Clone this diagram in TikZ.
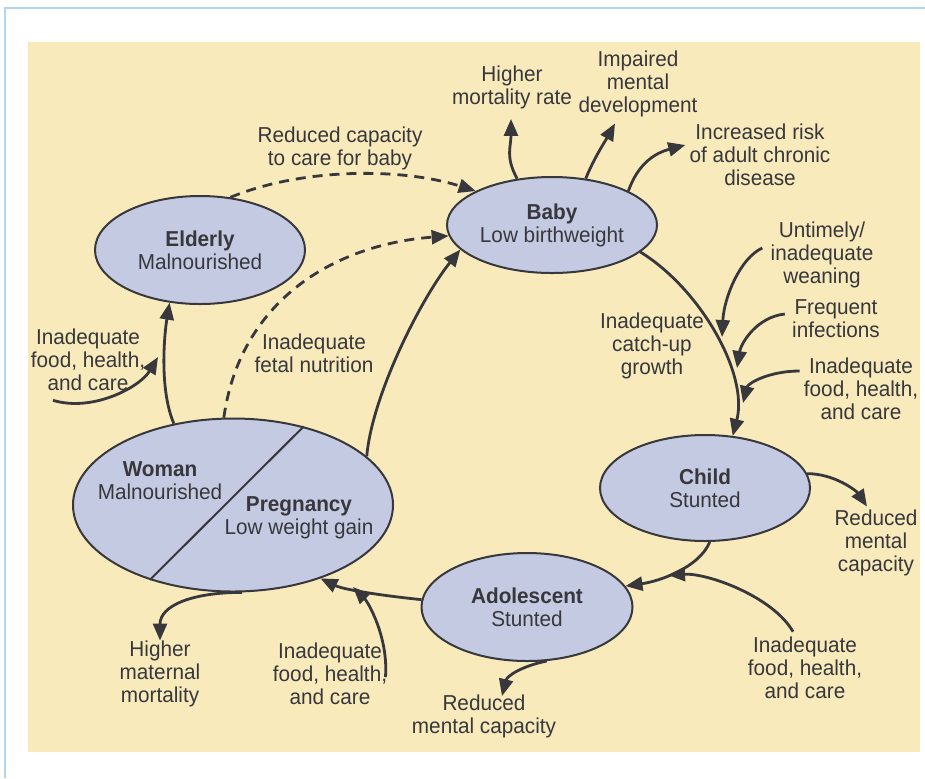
\documentclass[tikz,border=0pt]{standalone}
\usepackage{fontspec}
\setmainfont{Liberation Sans}[FakeStretch=0.96]
\usetikzlibrary{shapes.geometric,arrows.meta}

\definecolor{panel}{RGB}{248,234,187}
\definecolor{lav}{RGB}{196,202,226}
\definecolor{ink}{RGB}{55,55,60}
\definecolor{rim}{RGB}{176,212,242}

\begin{document}
\begin{tikzpicture}[x=0.5pt,y=-0.5pt,
  font=\fontsize{10.8}{11.5}\selectfont,
  stage/.style={ellipse,draw=ink,line width=1pt,fill=lav,inner sep=0pt,
    align=center,text=ink,minimum width=105pt,minimum height=52pt},
  lbl/.style={align=center,text=ink,inner sep=0pt},
  link/.style={draw=ink,line width=1.4pt,-{Triangle[length=8.5pt,width=7pt]}},
  hint/.style={link,dash pattern=on 5pt off 3.5pt}]
\useasboundingbox (0,0) rectangle (925,778);
\draw[rim,line width=0.6pt] (5,778) -- (5,8) -- (925,8);
\fill[panel] (28,42) rectangle (920,752);

\node[stage,minimum height=96pt/2] (baby) at (552,225) {\textbf{Baby}\\Low birthweight};
\node[stage,minimum height=108pt/2] (elderly) at (200,250) {\textbf{Elderly}\\Malnourished};
\node[stage,minimum height=106pt/2] (child) at (705,488) {\textbf{Child}\\Stunted};
\node[stage,minimum width=211pt/2,minimum height=108pt/2] (teen) at (527,607) {\textbf{Adolescent}\\Stunted};
\node[stage,minimum width=320pt/2,minimum height=173pt/2] (woman) at (233,505) {};
\draw[ink,line width=1pt] (woman.48) -- (woman.222);
\node[lbl] (wtxt) at (160,481) {\textbf{Woman}\\Malnourished};
\node[lbl] (ptxt) at (299,518) {\textbf{Pregnancy}\\Low weight gain};

\node[lbl] (hmr) at (512,87) {Higher\\mortality rate};
\node[lbl] (imd) at (638,84) {Impaired\\mental\\development};
\node[lbl] (irc) at (760,155) {Increased risk\\of adult chronic\\disease};
\node[lbl] (rcc) at (340,148) {Reduced capacity\\to care for baby};
\node[lbl] (ifn) at (314,353) {Inadequate\\fetal nutrition};
\node[lbl] (foodE) at (88,360) {Inadequate\\food, health,\\and care};
\node[lbl] (uw) at (822,255) {Untimely/\\inadequate\\weaning};
\node[lbl] (fi) at (836,319) {Frequent\\infections};
\node[lbl] (foodC) at (861,389) {Inadequate\\food, health,\\and care};
\node[lbl] (icg) at (652,346) {Inadequate\\catch-up\\growth};
\node[lbl] (rmcC) at (876,543) {Reduced\\mental\\capacity};
\node[lbl] (foodT) at (805,668) {Inadequate\\food, health,\\and care};
\node[lbl] (rmcT) at (484,716) {Reduced\\mental capacity};
\node[lbl] (hmm) at (160,674) {Higher\\maternal\\mortality};
\node[lbl] (foodP) at (330,674) {Inadequate\\food, health,\\and care};

\draw[link] (baby.127) .. controls +(-12,-22) and +(0,28) .. ([shift={(-1,10)}]hmr.south);
\draw[link] (baby.54) .. controls +(8,-20) and +(-10,18) .. ([shift={(-23,6)}]imd.south);
\draw[link] (baby.24) .. controls +(10,-28) and +(-30,8) .. ([shift={(-4,-10)}]irc.west);
\draw[hint] (elderly.60) .. controls +(70,-29) and +(-76,-24) .. (baby.156);
\draw[hint] (woman.96) .. controls +(16,-115) and +(-117,9) .. (baby.186);
\draw[link] (woman.126) .. controls +(-15,-35) and +(-5,30) .. (elderly.240);
\draw[link] ([shift={(-35,9)}]foodE.south) .. controls +(40,12) and +(-18,30) .. (158,357);
\draw[link] (woman.20) .. controls +(5,-60) and +(-40,50) .. (baby.195);
\draw[link] (baby.-17) .. controls +(60,37) and +(16,-62) .. (child.62);
\draw[link] ([shift={(-8,-7)}]uw.west) .. controls +(-22,10) and +(2,-40) .. (722,337);
\draw[link] ([shift={(-7,-5)}]fi.west) .. controls +(-28,3) and +(4,-25) .. (737,368);
\draw[link] ([shift={(-4,-18)}]foodC.west) .. controls +(-30,0) and +(5,-20) .. (743,403);
\draw[link] (child.8) .. controls +(28,0) and +(-10,-15) .. ([shift={(-9,-3)}]rmcC.north);
\draw[link] (child.-85) .. controls +(-10,25) and +(35,-5) .. (teen.12);
\draw[link] ([shift={(-12,-5)}]foodT.north) .. controls +(-20,-35) and +(40,-2) .. (668,575);
\draw[link] (teen.-70) .. controls +(-25,5) and +(5,-20) .. ([shift={(18,2)}]rmcT.north);
\draw[link] (teen.176) .. controls +(-30,-3) and +(25,12) .. (woman.-40);
\draw[link] ([shift={(-2,3)}]foodP.east) .. controls +(3,-40) and +(15,15) .. (353,587);
\draw[link] (woman.-84) .. controls +(-50,0) and +(0,-35) .. ([shift={(0,0)}]hmm.north);
\end{tikzpicture}
\end{document}
